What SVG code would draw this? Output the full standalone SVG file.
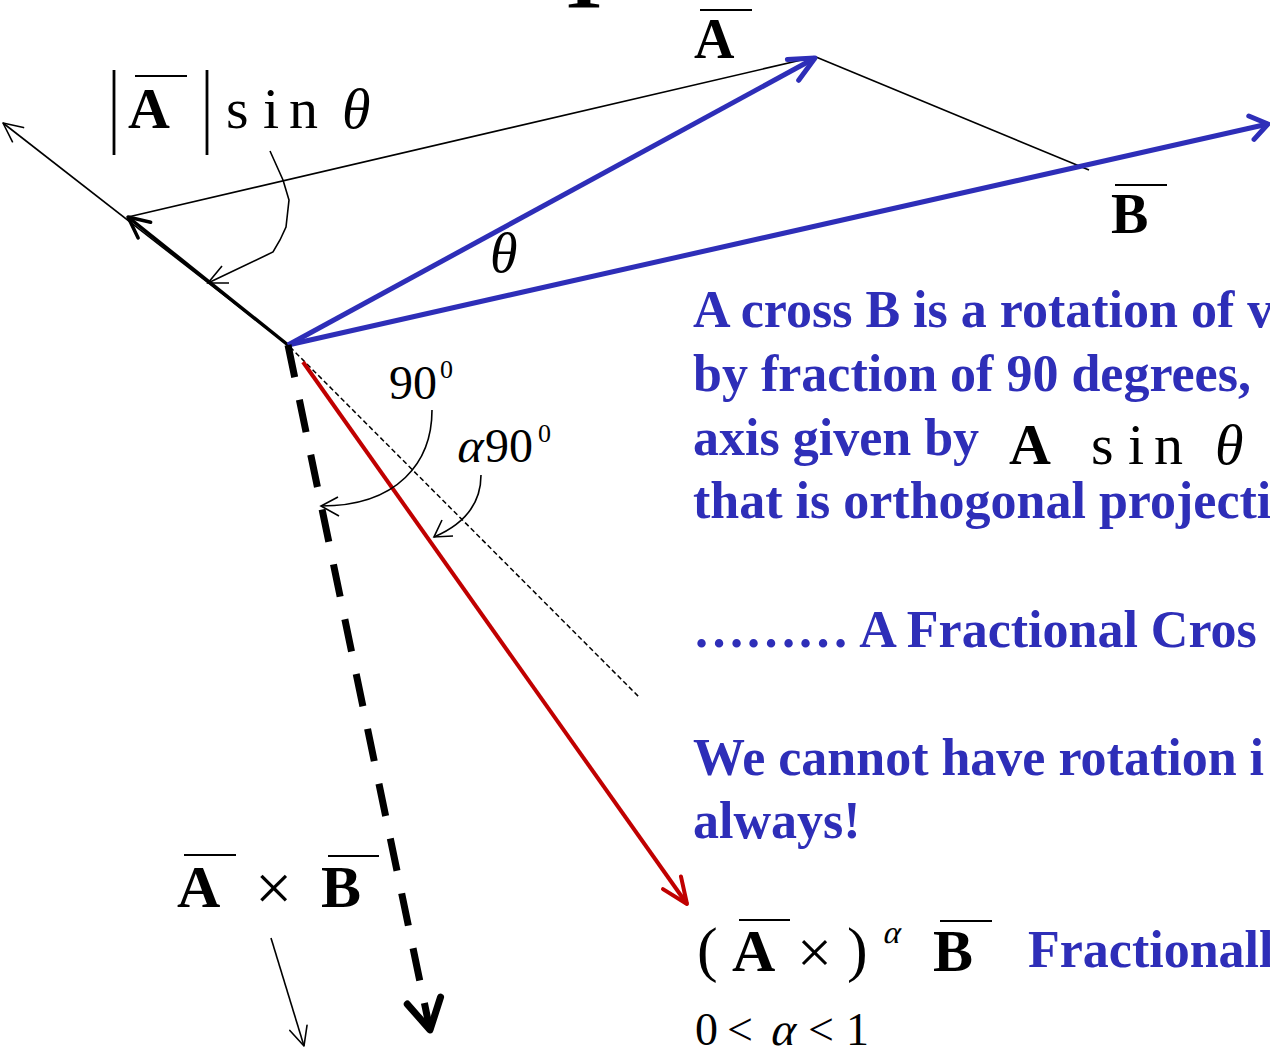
<svg xmlns="http://www.w3.org/2000/svg" width="1270" height="1048" viewBox="0 0 1270 1048">
<style>
.m{font-family:"Liberation Serif","Times New Roman",serif;fill:#000}
.b{font-weight:bold}
.i{font-style:italic}
.blue{font-family:"Liberation Serif","Times New Roman",serif;font-weight:bold;fill:#2E2EB8;font-size:52px}
.thin{stroke:#000;stroke-width:1.6;fill:none}
.ov{stroke:#000;stroke-width:2.2}
</style>
<defs>
<marker id="arrBlueA" markerUnits="userSpaceOnUse" viewBox="-40 -20 50 40" markerWidth="50" markerHeight="40" refX="0" refY="0" orient="auto" overflow="visible">
<path d="M-25,-11.8 L0,0 L-25,11.8" fill="none" stroke="#2E2EB8" stroke-width="5" stroke-linecap="round" stroke-linejoin="round"/>
</marker>
<marker id="arrBlueB" markerUnits="userSpaceOnUse" viewBox="-40 -20 50 40" markerWidth="50" markerHeight="40" refX="0" refY="0" orient="auto" overflow="visible">
<path d="M-17,-12 L0,0 L-17,12" fill="none" stroke="#2E2EB8" stroke-width="5" stroke-linecap="round" stroke-linejoin="round"/>
</marker>
<marker id="arrThick" markerUnits="userSpaceOnUse" viewBox="-40 -20 50 40" markerWidth="50" markerHeight="40" refX="0" refY="0" orient="auto" overflow="visible">
<path d="M-21,-10 L0,0 L-21,10" fill="none" stroke="#000" stroke-width="3.5" stroke-linecap="round" stroke-linejoin="round"/>
</marker>
<marker id="arrThin" markerUnits="userSpaceOnUse" viewBox="-40 -20 50 40" markerWidth="50" markerHeight="40" refX="0" refY="0" orient="auto" overflow="visible">
<path d="M-19,-9 L0,0 L-19,9" fill="none" stroke="#000" stroke-width="1.6" stroke-linecap="round" stroke-linejoin="round"/>
</marker>
<marker id="arrRed" markerUnits="userSpaceOnUse" viewBox="-40 -20 50 40" markerWidth="50" markerHeight="40" refX="0" refY="0" orient="auto" overflow="visible">
<path d="M-26,-11 L0,0 L-26,11" fill="none" stroke="#C00000" stroke-width="4" stroke-linecap="round" stroke-linejoin="round"/>
</marker>
<marker id="arrDash" markerUnits="userSpaceOnUse" viewBox="-40 -30 50 60" markerWidth="50" markerHeight="60" refX="0" refY="0" orient="auto" overflow="visible">
<path d="M-30,-17 L0,0 L-30,17" fill="none" stroke="#000" stroke-width="7" stroke-linecap="round" stroke-linejoin="round"/>
</marker>
</defs>

<g id="connectors">
<line x1="128" y1="217" x2="810" y2="58" class="thin"/>
<line x1="816" y1="57" x2="1089" y2="170" class="thin"/>
<line x1="288" y1="345" x2="3" y2="123" class="thin" marker-end="url(#arrThin)"/>
<line x1="288" y1="345" x2="128" y2="217" stroke="#000" stroke-width="3.5" marker-end="url(#arrThick)"/>
<line x1="290" y1="347" x2="640" y2="698" stroke="#000" stroke-width="1.5" stroke-dasharray="5 3"/>
<line x1="288" y1="345" x2="815" y2="58" stroke="#2E2EB8" stroke-width="5" marker-end="url(#arrBlueA)"/>
<line x1="288" y1="345" x2="1268" y2="124" stroke="#2E2EB8" stroke-width="5" marker-end="url(#arrBlueB)"/>
<line x1="288" y1="345" x2="430" y2="1030" stroke="#000" stroke-width="7" stroke-dasharray="33 23" marker-end="url(#arrDash)"/>
<line x1="303" y1="362" x2="687" y2="904" stroke="#C00000" stroke-width="4" marker-end="url(#arrRed)"/>
<polyline points="270,151 283,180 289,200 286,227 280,240 273,252 208,283" class="thin"/>
<polyline points="222,266 208,283 229,283" class="thin"/>
<path d="M432,410 C432,462 398,506 321,506" class="thin"/>
<polyline points="338,497 321,506 339,516" class="thin"/>
<path d="M481,475 C481,505 462,525 434,537" class="thin"/>
<polyline points="442,520 434,537 453,536" class="thin"/>
<line x1="271" y1="938" x2="304" y2="1046" class="thin" marker-end="url(#arrThin)"/>
</g>

<g id="label-top-partial">
<text class="m b" x="556" y="8" font-size="84">T</text>
</g>

<g id="label-Asin">
<line x1="114" y1="70" x2="114" y2="155" stroke="#000" stroke-width="2.8"/>
<line x1="207" y1="70" x2="207" y2="155" stroke="#000" stroke-width="2.8"/>
<text class="m b" x="128" y="128" font-size="58">A</text>
<line x1="135" y1="76" x2="187" y2="76" class="ov"/>
<text class="m" x="226 263 289" y="128" font-size="58">sin</text>
<text class="m i" x="342" y="128" font-size="58">θ</text>
</g>

<g id="label-A">
<text class="m b" x="694" y="58" font-size="56">A</text>
<line x1="700" y1="10" x2="752" y2="10" class="ov"/>
</g>

<g id="label-theta">
<text class="m i" x="490" y="272" font-size="56">θ</text>
</g>

<g id="label-B">
<text class="m b" x="1111" y="233" font-size="56">B</text>
<line x1="1115" y1="185" x2="1167" y2="185" class="ov"/>
</g>

<g id="label-90">
<text class="m" x="389" y="399" font-size="48">90</text>
<text class="m" x="440" y="378" font-size="26">0</text>
</g>

<g id="label-alpha90">
<text class="m" x="0" y="0" font-size="48" transform="translate(455,462) skewX(-14)">α</text>
<text class="m" x="485" y="462" font-size="48">90</text>
<text class="m" x="538" y="442" font-size="26">0</text>
</g>

<g id="text-block">
<text class="blue" x="693" y="327">A cross B is a rotation of v</text>
<text class="blue" x="693" y="391">by fraction of 90 degrees,</text>
<text class="blue" x="693" y="455">axis given by</text>
<text class="m b" x="1009" y="464" font-size="58">A</text>
<text class="m" x="1091 1128 1154" y="464" font-size="58">sin</text>
<text class="m i" x="1215" y="464" font-size="58">θ</text>
<text class="blue" x="693" y="518">that is orthogonal projecti</text>
<text class="blue" x="693" y="647">……… A Fractional Cros</text>
<text class="blue" x="693" y="775">We cannot have rotation i</text>
<text class="blue" x="693" y="838">always!</text>
</g>

<g id="label-AxB">
<text class="m b" x="177" y="907" font-size="60">A</text>
<line x1="184" y1="855" x2="236" y2="855" class="ov"/>
<text class="m" x="255" y="910" font-size="66">×</text>
<text class="m b" x="321" y="907" font-size="60">B</text>
<line x1="328" y1="856" x2="379" y2="856" class="ov"/>
</g>

<g id="label-fractional">
<text class="m" x="697" y="970" font-size="62">(</text>
<text class="m b" x="732" y="971" font-size="60">A</text>
<line x1="739" y1="920" x2="790" y2="920" class="ov"/>
<text class="m" x="797" y="973" font-size="62">×</text>
<text class="m" x="847" y="970" font-size="62">)</text>
<text class="m" x="0" y="0" font-size="32" transform="translate(882,943) skewX(-14)">α</text>
<text class="m b" x="933" y="971" font-size="60">B</text>
<line x1="940" y1="921" x2="992" y2="921" class="ov"/>
<text class="blue" x="1028" y="967">Fractionall</text>
</g>

<g id="label-range">
<text class="m" x="695 727" y="1045" font-size="46">0&lt;</text>
<text class="m" x="0" y="0" font-size="46" transform="translate(769,1045) skewX(-14)">α</text>
<text class="m" x="808 846" y="1045" font-size="46">&lt;1</text>
</g>
</svg>
